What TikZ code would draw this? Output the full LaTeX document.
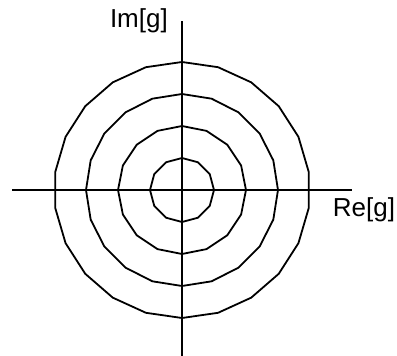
\documentclass[tikz,border=0pt]{standalone}
\usepackage{fontspec}
\setmainfont{Liberation Sans}
\usetikzlibrary{shapes.geometric, positioning}

\begin{document}
\begin{tikzpicture}[x=1pt, y=1pt,
  axis/.style={line width=1.8pt},
  ring/.style={draw, line width=1.8pt, line join=round, regular polygon, inner sep=0pt, outer sep=0pt},
  lbl/.style={font=\fontsize{26}{30}\selectfont, inner sep=0pt}
]
  \useasboundingbox (0,0) rectangle (397,356);
  \coordinate (o) at (182,166);
  \coordinate (west) at (12,166);
  \coordinate (east) at (352,166);
  \coordinate (north) at (182,335);
  \coordinate (south) at (182,0);
  \draw[axis] (west) -- (east);
  \draw[axis] (south) -- (north);
  % rings of g
  \foreach \r/\n in {32/12, 64/16, 96/20, 128/22}
    \node[ring, regular polygon sides=\n, shape border rotate=180/\n, minimum size=2*\r] (ring\n) at (o) {};
  \node[lbl, left=14pt of north] (im) {Im[g]};
  \node[lbl] (re) at (364,146) {Re[g]};
\end{tikzpicture}
\end{document}
